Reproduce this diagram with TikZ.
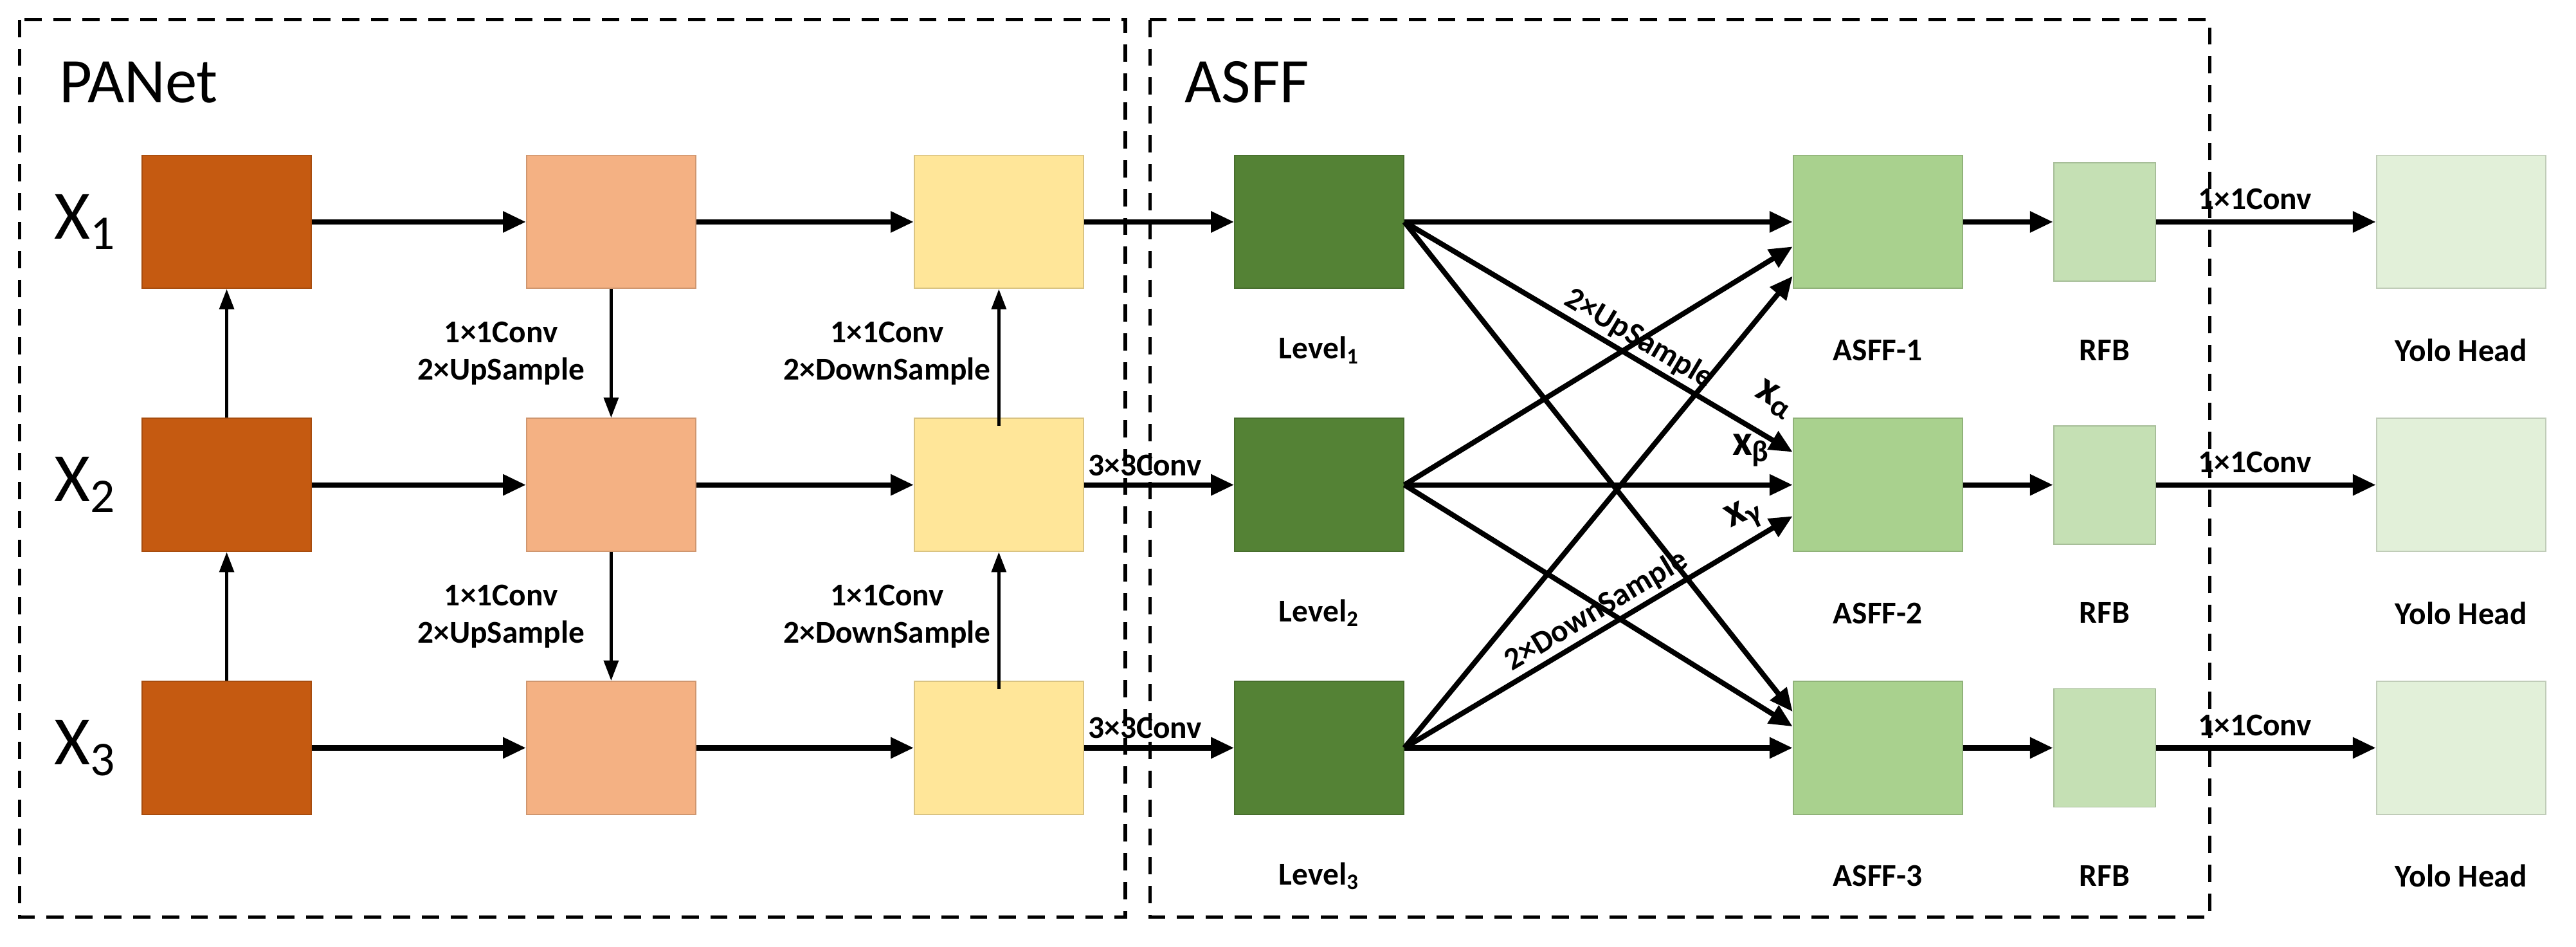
\documentclass[tikz,border=0pt]{standalone}
\usepackage{fontspec}
\setmainfont{Carlito}
\usepackage{tikz}
\usetikzlibrary{arrows.meta,positioning,calc}

\definecolor{darkorange}{HTML}{C55A11}
\definecolor{lightorange}{HTML}{F4B183}
\definecolor{paleyellow}{HTML}{FFE699}
\definecolor{darkgreen}{HTML}{548235}
\definecolor{midgreen}{HTML}{A9D18E}
\definecolor{lightgreen}{HTML}{C5E0B4}
\definecolor{palegreen}{HTML}{E2F0D9}

\tikzset{
    blk/.style={draw=#1!85!black,fill=#1,line width=0.4pt,minimum width=2.06cm,minimum height=1.62cm,inner sep=0pt},
    rfb/.style={draw=lightgreen!85!black,fill=lightgreen,line width=0.4pt,minimum width=1.24cm,minimum height=1.44cm,inner sep=0pt},
    flow/.style={-{Triangle[length=8pt,width=7pt]},line width=1.8pt},
    up/.style={-{Triangle[length=7pt,width=5pt]},line width=1.1pt},
    lbl/.style={font=\bfseries\fontsize{11}{13}\selectfont,align=center},
    wgt/.style={font=\bfseries\fontsize{15}{17}\selectfont,inner sep=1pt},
    frame/.style={dashed,line width=1.2pt,dash pattern=on 6pt off 4pt}
}

\begin{document}
\begin{tikzpicture}[x=0.02cm,y=-0.02cm]
    \useasboundingbox (0,0) rectangle (1568,576);

    % Frames
    \draw[frame] (12,12) rectangle (685,558);
    \draw[frame] (700,12) rectangle (1345,558);
    \node[font=\fontsize{22}{24}\selectfont,anchor=west] (panet) at (30,50) {PANet};
    \node[font=\fontsize{22}{24}\selectfont,anchor=west] (asff) at (715,50) {ASFF};

    % Rows
    \foreach \i/\y in {1/135,2/295,3/455} {
        \node[font=\fontsize{24}{26}\selectfont] (x\i) at (52,\y) {X\textsubscript{\i}};
        \node[blk=darkorange] (a\i) at (138,\y) {};
        \node[blk=lightorange] (b\i) at (372,\y) {};
        \node[blk=paleyellow] (c\i) at (608,\y) {};
        \node[blk=darkgreen] (l\i) at (803,\y) {};
        \node[lbl] (ll\i) at (803,\y+78) {Level\textsubscript{\i}};
        \node[blk=midgreen] (f\i) at (1143,\y) {};
        \node[lbl] (fl\i) at (1143,\y+78) {ASFF-\i};
        \node[rfb] (r\i) at (1281,\y) {};
        \node[lbl] (rl\i) at (1281,\y+78) {RFB};
        \node[blk=palegreen] (h\i) at (1498,\y) {};
        \node[lbl] (hl\i) at (1498,\y+78) {Yolo Head};
        % horizontal flow
        \draw[flow] (a\i) -- (b\i);
        \draw[flow] (b\i) -- (c\i);
        \draw[flow] (c\i) -- (l\i);
        \draw[flow] (f\i) -- (r\i);
        \draw[flow] (r\i) -- node[lbl,above,pos=0.45] {1×1Conv} (h\i);
    }

    % PANet vertical paths
    \draw[up] (a2) -- (a1);
    \draw[up] (a3) -- (a2);
    \draw[up] (b1) -- (b2);
    \draw[up] (b2) -- (b3);
    \draw[up] ($(c2.north)+(0,5)$) -- (c1);
    \draw[up] ($(c3.north)+(0,5)$) -- (c2);
    \foreach \y in {215,375} {
        \node[lbl] at (305,\y) {1×1Conv\\2×UpSample};
        \node[lbl] at (540,\y) {1×1Conv\\2×DownSample};
    }
    \node[lbl] at (697,283) {3×3Conv};
    \node[lbl] at (697,443) {3×3Conv};

    % ASFF fusion
    \draw[flow] (l1.east) -- (f1.west);
    \draw[flow] (l2.east) -- ($(f1.west)+(0,15)$);
    \draw[flow] (l3.east) -- ($(f1.west)+(0,33)$);
    \draw[flow] (l1.east) -- node[lbl,sloped,above,pos=0.58,inner sep=1pt] {2×UpSample} ($(f2.west)+(0,-20)$);
    \draw[flow] (l2.east) -- (f2.west);
    \draw[flow] (l3.east) -- node[lbl,sloped,above,pos=0.52,inner sep=1pt] {2×DownSample} ($(f2.west)+(0,19)$);
    \draw[flow] (l1.east) -- ($(f3.west)+(0,-22)$);
    \draw[flow] (l2.east) -- ($(f3.west)+(0,-13)$);
    \draw[flow] (l3.east) -- (f3.west);
    \node[wgt,rotate=-30] (xa) at (1080,243) {x\textsubscript{α}};
    \node[wgt] (xb) at (1066,274) {x\textsubscript{β}};
    \node[wgt,rotate=25] (xg) at (1062,314) {x\textsubscript{γ}};
\end{tikzpicture}
\end{document}
